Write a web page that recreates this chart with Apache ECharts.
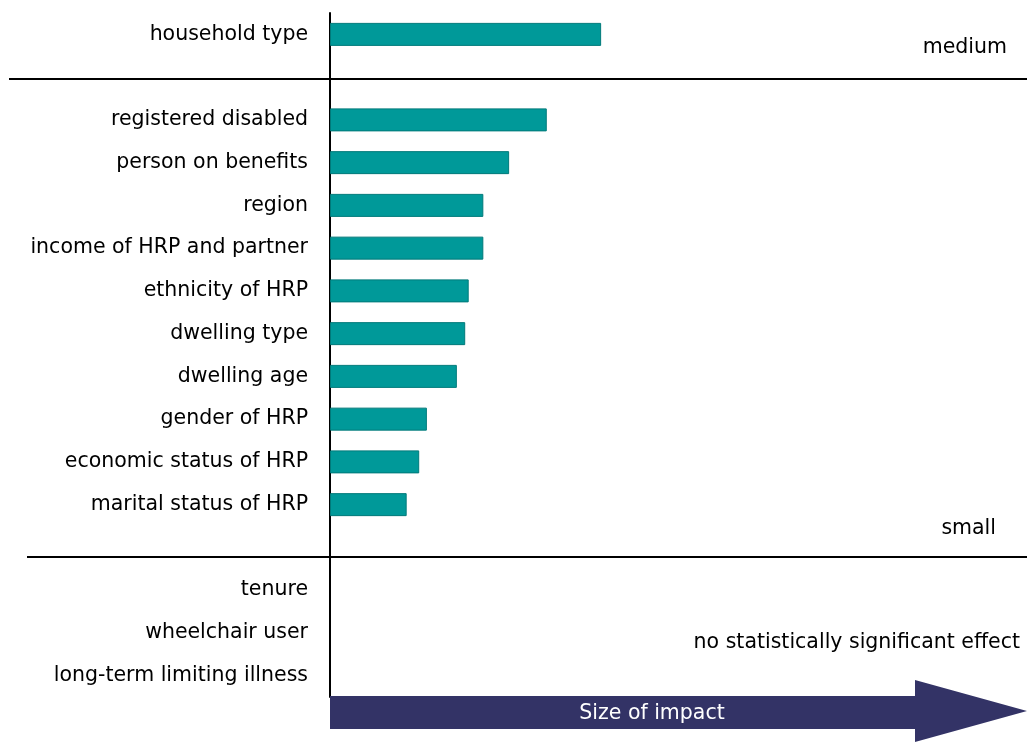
<!DOCTYPE html>
<html>
<head>
<meta charset="utf-8">
<script src="https://cdn.jsdelivr.net/npm/echarts@6/dist/echarts.min.js"></script>
<style>html,body{margin:0;padding:0;background:#fff}#c{width:1027px;height:742px}</style>
</head>
<body>
<div id="c"></div>
<script>
const categories = [
  'household type', ' ',
  'registered disabled', 'person on benefits', 'region', 'income of HRP and partner',
  'ethnicity of HRP', 'dwelling type', 'dwelling age', 'gender of HRP',
  'economic status of HRP', 'marital status of HRP', '  ',
  'tenure', 'wheelchair user', 'long-term limiting illness'
];
const impactValues = [
  38.9, null,
  31.1, 25.7, 22.0, 22.0,
  19.9, 19.4, 18.2, 13.9,
  12.8, 11.0, null,
  null, null, null
];
const bandLabels = ['medium', 'small', 'no statistically significant effect'];
const arrowLabel = 'Size of impact';

const FONT = '"DejaVu Sans", sans-serif';
const FS = 20.5;
const chart = echarts.init(document.getElementById('c'));
chart.setOption({
  animation: false,
  backgroundColor: '#ffffff',
  grid: { left: 330, right: 0, top: 13, bottom: 45, containLabel: false },
  xAxis: {
    type: 'value', min: 0, max: 100, show: false
  },
  yAxis: {
    type: 'category', data: categories, inverse: true,
    axisLine: { show: true, lineStyle: { color: '#000', width: 2 } },
    axisTick: { show: false },
    axisLabel: { color: '#000', fontSize: FS, fontFamily: FONT, margin: 22, padding: [4, 0, 0, 0] },
    splitLine: { show: false }
  },
  series: [{
    type: 'bar', data: impactValues, barWidth: 23,
    itemStyle: { color: '#009999', borderColor: '#007a7a', borderWidth: 1 }
  }],
  graphic: [
    { type: 'line', shape: { x1: 9, y1: 79, x2: 1027, y2: 79 }, style: { stroke: '#000', lineWidth: 2 } },
    { type: 'line', shape: { x1: 27, y1: 557, x2: 1027, y2: 557 }, style: { stroke: '#000', lineWidth: 2 } },
    { type: 'text', right: 20, top: 37, style: { text: bandLabels[0], fontSize: FS, fontFamily: FONT, fill: '#000' } },
    { type: 'text', right: 31, top: 518, style: { text: bandLabels[1], fontSize: FS, fontFamily: FONT, fill: '#000' } },
    { type: 'text', right: 7, top: 632, style: { text: bandLabels[2], fontSize: FS, fontFamily: FONT, fill: '#000' } },
    { type: 'polygon', shape: { points: [[330,696],[915,696],[915,680],[1027,711],[915,742],[915,729],[330,729]] },
      style: { fill: '#333366' }, z: 10 },
    { type: 'text', x: 652, y: 714, z: 11, style: { text: arrowLabel, fontSize: FS, fontFamily: FONT, fill: '#fff', align: 'center', verticalAlign: 'middle' } }
  ]
});
</script>
</body>
</html>
